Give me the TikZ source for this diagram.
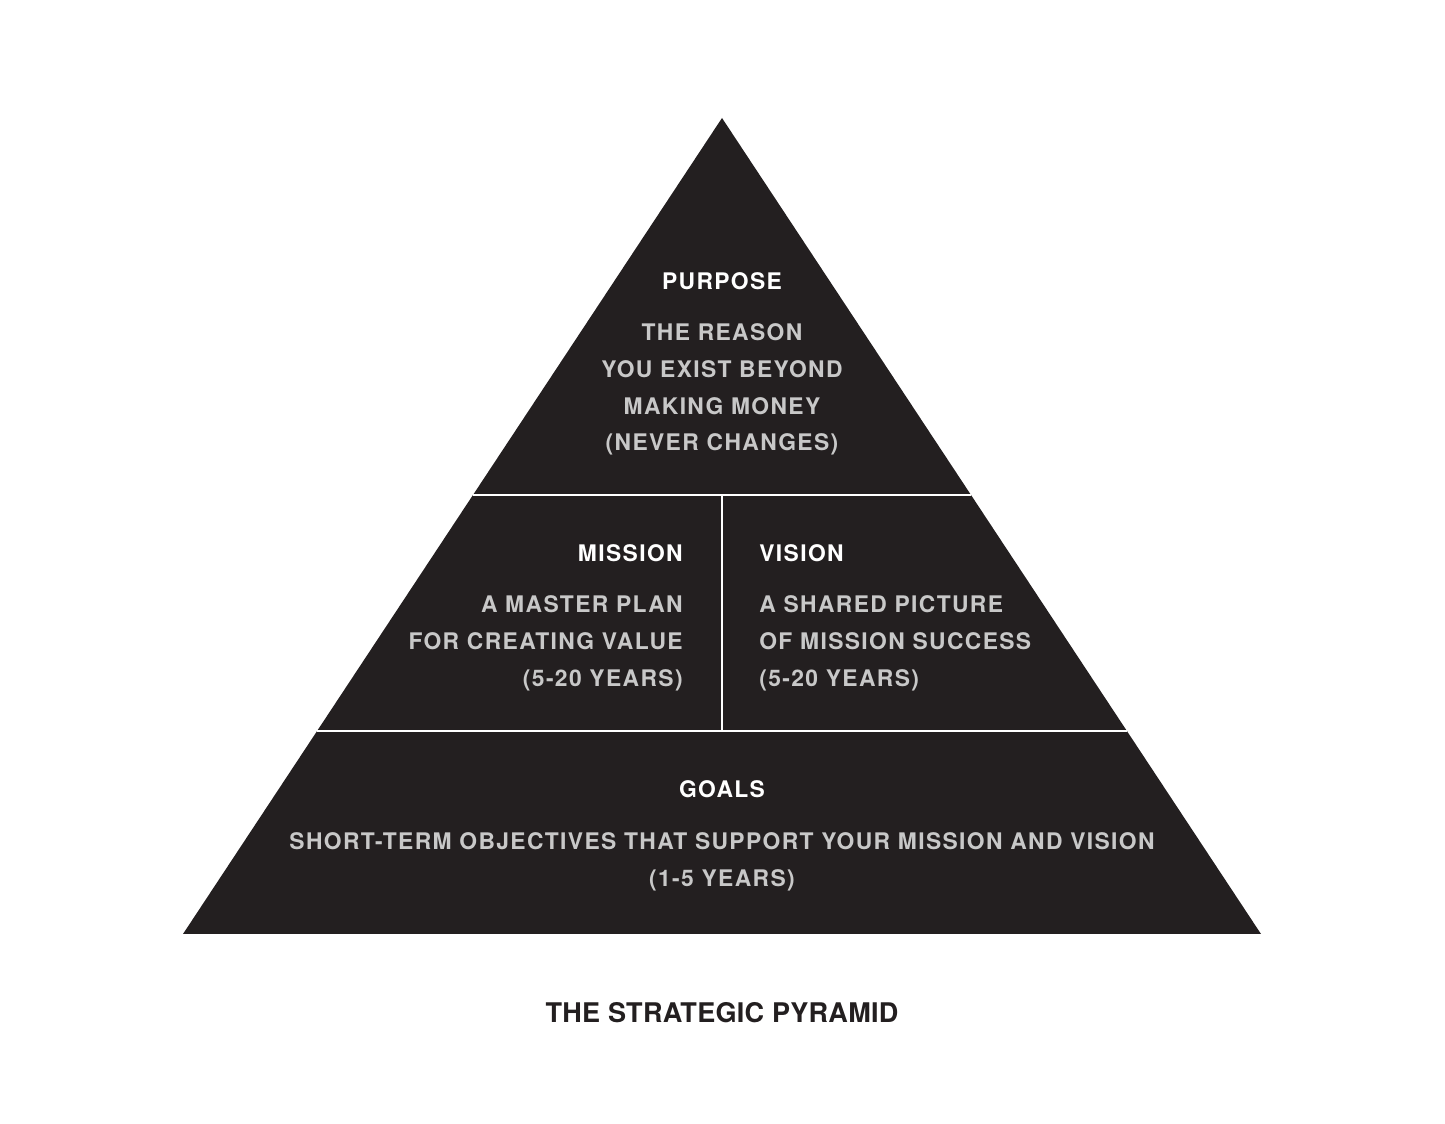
\documentclass[tikz,border=0pt]{standalone}
\usepackage{fontspec}
\setmainfont{TeX Gyre Heros}
\usepackage{xcolor}
\usetikzlibrary{positioning, calc}

\definecolor{pyramidfill}{HTML}{231F20}
\definecolor{bodygray}{HTML}{C8C8C8}

\begin{document}
\begin{tikzpicture}[
    x=0.02cm, y=-0.02cm,
    every node/.style={font=\bfseries\fontsize{13}{21}\selectfont\addfontfeature{LetterSpace=6}, inner sep=0pt},
    heading/.style={text=white, anchor=base},
    desc/.style={text=bodygray, anchor=north},
    divider/.style={draw=white, line width=1.2pt},
    caption/.style={font=\bfseries\fontsize{15.4}{20}\selectfont\addfontfeature{LetterSpace=1}, text=pyramidfill, anchor=base}
]
\useasboundingbox (0,0) rectangle (1445,1124);

% Pyramid corners
\coordinate (apex) at (722,118);
\coordinate (bl) at (183,934);
\coordinate (br) at (1261,934);

% Pyramid body
\fill[pyramidfill] (apex) -- (bl) -- (br) -- cycle;

% Tier dividers
\coordinate (upl) at ($(apex)!0.462!(bl)$);
\coordinate (upr) at ($(apex)!0.462!(br)$);
\coordinate (lowl) at ($(apex)!0.751!(bl)$);
\coordinate (lowr) at ($(apex)!0.751!(br)$);
\coordinate (midtop) at (722,495);
\coordinate (midbot) at (722,731);
\draw[divider] (upl) -- (upr);
\draw[divider] (lowl) -- (lowr);
\draw[divider] (midtop) -- (midbot);

% Purpose
\node[heading] (purpose) at (722,290) {PURPOSE};
\node[desc, align=center] (purposetext) at (722,323) {THE REASON\\YOU EXIST BEYOND\\MAKING MONEY\\(NEVER CHANGES)};

% Mission
\node[heading, anchor=base east] (mission) at (683,562) {MISSION};
\node[desc, align=right, anchor=north east] (missiontext) at (683,595) {A MASTER PLAN\\FOR CREATING VALUE\\(5-20 YEARS)};

% Vision
\node[heading, anchor=base west] (vision) at (759,562) {VISION};
\node[desc, align=left, anchor=north west] (visiontext) at (759,595) {A SHARED PICTURE\\OF MISSION SUCCESS\\(5-20 YEARS)};

% Goals
\node[heading] (goals) at (722,798) {GOALS};
\node[desc, align=center] (goalstext) at (722,832) {SHORT-TERM OBJECTIVES THAT SUPPORT YOUR MISSION AND VISION\\(1-5 YEARS)};

% Title
\node[caption] (title) at (722,1023) {THE STRATEGIC PYRAMID};

\end{tikzpicture}
\end{document}
